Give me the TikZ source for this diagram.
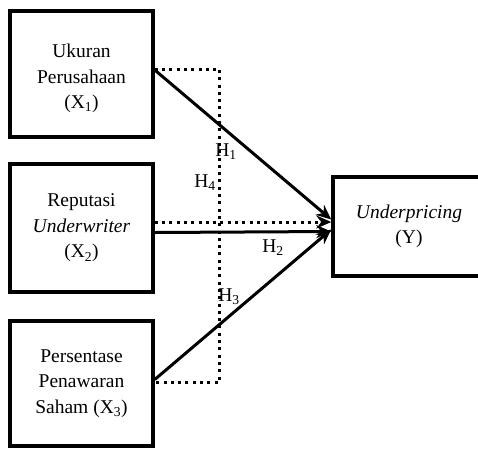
\documentclass[tikz,border=0pt]{standalone}
\usepackage{fontspec}
\setmainfont{Liberation Serif}
\usetikzlibrary{arrows.meta,calc}
\begin{document}
\begin{tikzpicture}[x=1pt,y=-1pt,
  box/.style={draw=black,line width=3.5pt,align=center,inner sep=0pt,font=\fontsize{19.5}{25.5}\selectfont},
  lab/.style={font=\fontsize{19.5}{22}\selectfont,inner sep=0pt},
  arr/.style={line width=3pt,-{Stealth[length=15pt,width=13pt,inset=5pt]}},
  dot/.style={line width=3pt,dash pattern=on 3pt off 4.3pt},
  dotarr/.style={dot,-{Stealth[length=15pt,width=13pt,inset=5pt]}}]
\useasboundingbox (0,0) rectangle (478,448);
\node[box,minimum width=143pt,minimum height=126pt] (x1) at (81.5,74) {\\[-3pt]Ukuran\\Perusahaan\\(X\textsubscript{1})};
\node[box,minimum width=143pt,minimum height=128pt] (x2) at (81.5,228) {Reputasi\\\textit{Underwriter}\\(X\textsubscript{2})};
\node[box,minimum width=143pt,minimum height=125pt] (x3) at (81.5,383.5) {Persentase\\Penawaran\\Saham (X\textsubscript{3})};
\node[box,minimum width=152pt,minimum height=99pt] (y) at (409,226.5) {\textit{Underpricing}\\(Y)};
\coordinate (c1) at (219.5,69);
\coordinate (c3) at (219.5,382);
\draw[dot] ([yshift=5pt]x1.east) -- (c1) -- (c3) -- (x3.east |- c3);
\draw[dotarr] ([yshift=6pt]x2.east) -- ([yshift=4.5pt]y.west);
\draw[arr] ([yshift=4pt]x1.east) -- ([yshift=7pt]y.west);
\draw[arr] ([yshift=-4.5pt]x2.east) -- ([yshift=-5pt]y.west);
\draw[arr] ([yshift=4pt]x3.east) -- ([yshift=-3pt]y.west);
\node[lab] (h1) at (226,152) {H\textsubscript{1}};
\node[lab] (h4) at (205,183) {H\textsubscript{4}};
\node[lab] (h2) at (273,248) {H\textsubscript{2}};
\node[lab] (h3) at (229,297) {H\textsubscript{3}};
\end{tikzpicture}
\end{document}
